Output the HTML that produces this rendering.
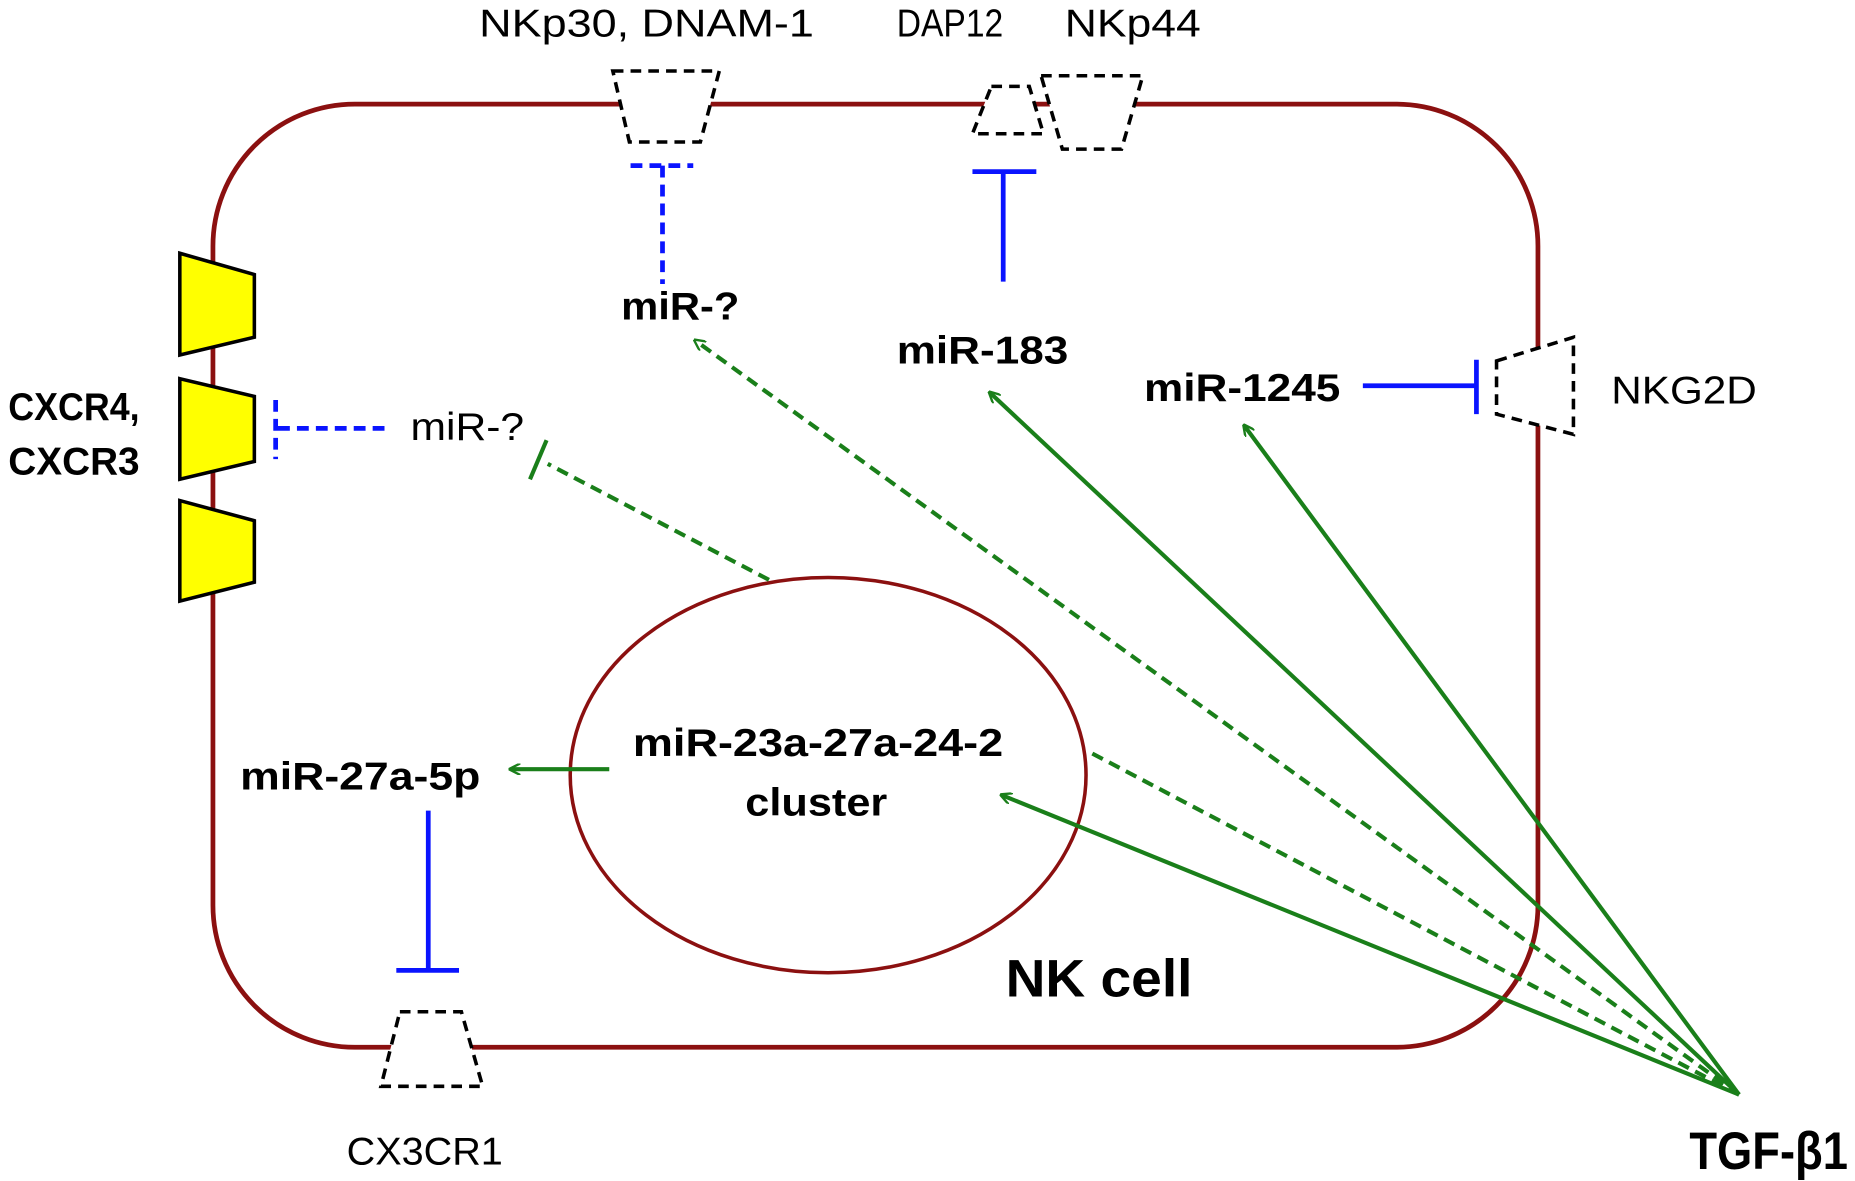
<!DOCTYPE html>
<html><head><meta charset="utf-8"><style>
html,body{margin:0;padding:0;background:#fff;}
svg{display:block;}
text{font-family:"Liberation Sans",sans-serif;}
</style></head><body>
<svg width="1855" height="1181" viewBox="0 0 1568 998" preserveAspectRatio="none">
<defs>
<marker id="ga" markerWidth="10" markerHeight="10" refX="8" refY="5" orient="auto" markerUnits="userSpaceOnUse" viewBox="0 0 10 10"><path d="M0,0 L10,5 L0,10" fill="none" stroke="#1a7f1a" stroke-width="2"/></marker>
</defs>
<rect x="180" y="88" width="1120" height="797" rx="120" ry="120" fill="none" stroke="#8b1010" stroke-width="4"/>
<ellipse cx="700" cy="655" rx="218" ry="167" fill="none" stroke="#8b1010" stroke-width="3"/>
<g fill="#fff" stroke="#000" stroke-width="3" stroke-dasharray="9,6">
<polygon points="518,60 608,60 592,120 532,120"/>
<polygon points="838,73 870,73 882,113 822,113"/>
<polygon points="880,64 966,64 948,126 898,126"/>
<polygon points="1265,305 1330,285 1330,367 1265,350"/>
<polygon points="338,855 390,855 408,918 322,918"/>
</g>
<g fill="#ffff00" stroke="#000" stroke-width="3">
<polygon points="152,214 215,232 215,285 152,300"/>
<polygon points="152,320 215,335 215,390 152,405"/>
<polygon points="152,423 215,440 215,492 152,508"/>
</g>
<g stroke="#0a14ff" stroke-width="4" fill="none">
<line x1="848" y1="145" x2="848" y2="238"/><line x1="822" y1="145" x2="876" y2="145"/>
<line x1="1152" y1="326" x2="1248" y2="326"/><line x1="1248" y1="304" x2="1248" y2="350"/>
<line x1="362" y1="685" x2="362" y2="820"/><line x1="335" y1="820" x2="388" y2="820"/>
<g stroke-dasharray="10,6">
<line x1="560" y1="140" x2="560" y2="240"/><line x1="533" y1="140" x2="586" y2="140"/>
<line x1="325" y1="362" x2="233" y2="362"/><line x1="233" y1="338" x2="233" y2="388"/>
</g>
</g>
<g stroke="#1a7f1a" stroke-width="3.5" fill="none">
<line x1="515" y1="650" x2="432" y2="650" marker-end="url(#ga)"/>
<line x1="1470" y1="925" x2="837" y2="332" marker-end="url(#ga)"/>
<line x1="1470" y1="925" x2="1052" y2="360" marker-end="url(#ga)"/>
<line x1="1470" y1="925" x2="847" y2="672" marker-end="url(#ga)"/>
<g stroke-dasharray="10,6">
<line x1="1470" y1="925" x2="588" y2="288" marker-end="url(#ga)"/>
<line x1="1470" y1="925" x2="920" y2="635"/>
<line x1="650" y1="490" x2="463" y2="392"/>
</g>
<line x1="448" y1="405" x2="462" y2="372"/>
</g>
<g font-size="33" fill="#000" lengthAdjust="spacingAndGlyphs">
<text x="405" y="31" textLength="283" lengthAdjust="spacingAndGlyphs">NKp30, DNAM-1</text>
<text x="758" y="31" textLength="90" lengthAdjust="spacingAndGlyphs">DAP12</text>
<text x="900" y="31" textLength="115" lengthAdjust="spacingAndGlyphs">NKp44</text>
<text x="1362" y="341" textLength="123" lengthAdjust="spacingAndGlyphs">NKG2D</text>
<text x="347" y="372" textLength="96" lengthAdjust="spacingAndGlyphs">miR-?</text>
<text x="293" y="984" textLength="132" lengthAdjust="spacingAndGlyphs">CX3CR1</text>
</g>
<g font-size="33" font-weight="bold" fill="#000">
<text x="525" y="270" textLength="100" lengthAdjust="spacingAndGlyphs">miR-?</text>
<text x="758" y="307" textLength="145" lengthAdjust="spacingAndGlyphs">miR-183</text>
<text x="967" y="339" textLength="166" lengthAdjust="spacingAndGlyphs">miR-1245</text>
<text x="7" y="355" textLength="111" lengthAdjust="spacingAndGlyphs">CXCR4,</text>
<text x="7" y="401" textLength="111" lengthAdjust="spacingAndGlyphs">CXCR3</text>
<text x="535" y="639" textLength="313" lengthAdjust="spacingAndGlyphs">miR-23a-27a-24-2</text>
<text x="630" y="689" textLength="120" lengthAdjust="spacingAndGlyphs">cluster</text>
<text x="203" y="667" textLength="203" lengthAdjust="spacingAndGlyphs">miR-27a-5p</text>
<text x="850" y="842" font-size="45" textLength="158" lengthAdjust="spacingAndGlyphs">NK cell</text>
<text x="1428" y="988" font-size="45" textLength="134" lengthAdjust="spacingAndGlyphs">TGF-β1</text>
</g>
</svg>
</body></html>
